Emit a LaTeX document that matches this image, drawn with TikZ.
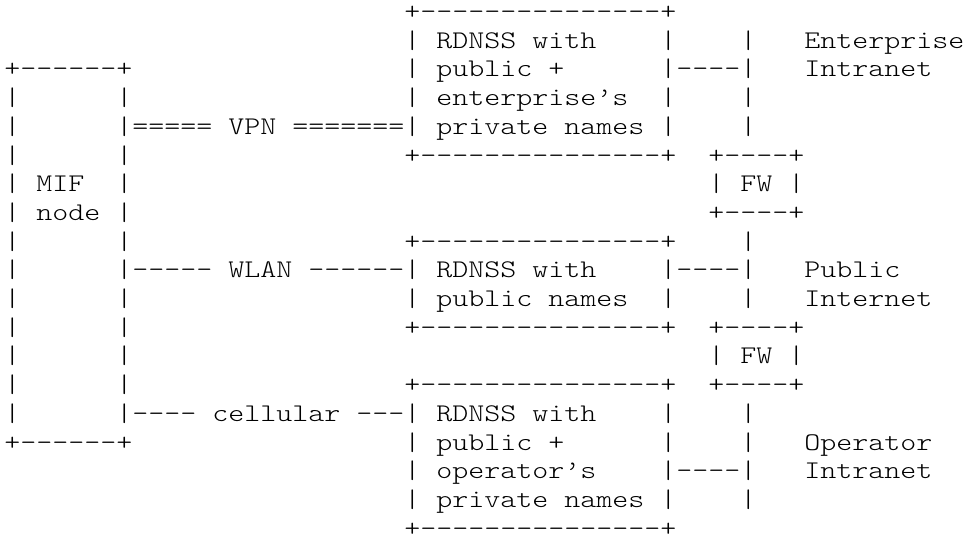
\documentclass[tikz,border=0pt]{standalone}
\usepackage{fontspec}
\setmonofont{lmmonolt10-regular.otf}[FakeStretch=1.2]
\ExplSyntaxOn
\cs_new:Npn \skp #1 { \prg_replicate:nn {#1} { \nobreakspace } }
\ExplSyntaxOff
\tikzset{
  row/.style={anchor=base west, inner sep=0pt, outer sep=0pt,
    font=\ttfamily\fontsize{25.4pt}{28.7pt}\selectfont, text=black}
}
\begin{document}
\begin{tikzpicture}[x=1pt,y=-1pt]
\fill[white] (0,0) rectangle (965,546);
\useasboundingbox (0,0) rectangle (965,546);
\node[row] (r1)  at (4.3,19.5)  {\skp{25}+---------------+};
\node[row] (r2)  at (4.3,48.2)  {\skp{25}|~RDNSS~with\skp{4}|\skp{4}|\skp{3}Enterprise};
\node[row] (r3)  at (4.3,76.9)  {+------+\skp{17}|~public~+\skp{6}|----|\skp{3}Intranet};
\node[row] (r4)  at (4.3,105.6) {|\skp{6}|\skp{17}|~enterprise’s\skp{2}|\skp{4}|};
\node[row] (r5)  at (4.3,134.3) {|\skp{6}|=====~VPN~=======|~private~names~|\skp{4}|};
\node[row] (r6)  at (4.3,163.0) {|\skp{6}|\skp{17}+---------------+\skp{2}+----+};
\node[row] (r7)  at (4.3,191.7) {|~MIF~~|\skp{36}|~FW~|};
\node[row] (r8)  at (4.3,220.4) {|~node~|\skp{36}+----+};
\node[row] (r9)  at (4.3,249.1) {|\skp{6}|\skp{17}+---------------+\skp{4}|};
\node[row] (r10) at (4.3,277.8) {|\skp{6}|-----~WLAN~------|~RDNSS~with\skp{4}|----|\skp{3}Public};
\node[row] (r11) at (4.3,306.5) {|\skp{6}|\skp{17}|~public~names\skp{2}|\skp{4}|\skp{3}Internet};
\node[row] (r12) at (4.3,335.2) {|\skp{6}|\skp{17}+---------------+\skp{2}+----+};
\node[row] (r13) at (4.3,363.9) {|\skp{6}|\skp{36}|~FW~|};
\node[row] (r14) at (4.3,392.6) {|\skp{6}|\skp{17}+---------------+\skp{2}+----+};
\node[row] (r15) at (4.3,421.3) {|\skp{6}|----~cellular~---|~RDNSS~with\skp{4}|\skp{4}|};
\node[row] (r16) at (4.3,450.0) {+------+\skp{17}|~public~+\skp{6}|\skp{4}|\skp{3}Operator};
\node[row] (r17) at (4.3,478.7) {\skp{25}|~operator’s\skp{4}|----|\skp{3}Intranet};
\node[row] (r18) at (4.3,507.4) {\skp{25}|~private~names~|\skp{4}|};
\node[row] (r19) at (4.3,536.1) {\skp{25}+---------------+};
\end{tikzpicture}
\end{document}
